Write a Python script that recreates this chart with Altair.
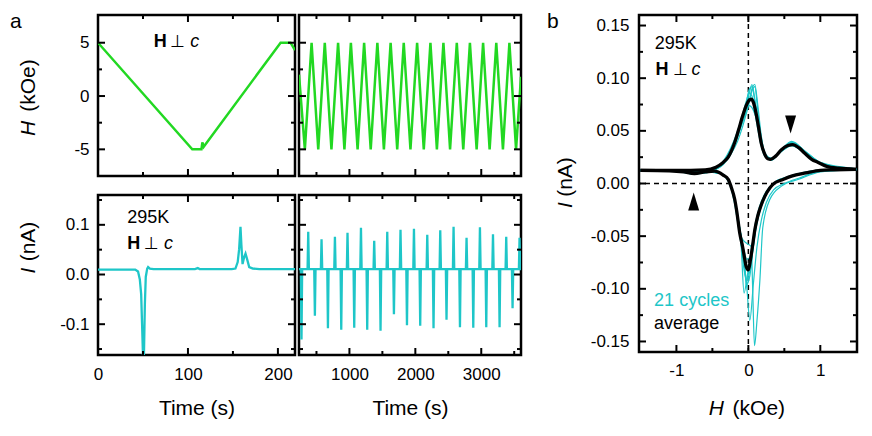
import altair as alt
import pandas as pd

FONT = "Liberation Sans"
GREEN = "#22D822"
CYAN = "#1EC6C8"
MINUS = "replace(datum.label, '\u2212', '-')"

# ---------------- panel a, top-left: field, first cycle ----------------
tl_time = [0, 104.8, 115, 116, 117.5, 203, 214, 219]
tl_field = [5.0, -5.0, -5.0, -4.35, -4.75, 5.0, 5.0, 4.3]

# ---------------- panel a, top-right: field, following cycles (turning points) ----------------
tr_time = [235, 324, 426, 527, 626, 727, 828, 924, 1022, 1124, 1223, 1323, 1424, 1523, 1625,
           1725, 1824, 1926, 2027, 2128, 2229, 2327, 2426, 2527, 2629, 2727, 2828, 2930, 3028,
           3127, 3228, 3329, 3427, 3528, 3603]
tr_field = [2.0, -5, 5, -5, 5, -5, 5, -5, 5, -5, 5, -5, 5, -5, 5, -5, 5, -5, 5, -5, 5,
            -5, 5, -5, 5, -5, 5, -5, 5, -5, 5, -5, 5, -5, 1.8]

# ---------------- panel a, bottom-left: current, first cycle ----------------
bl_time = [0, 41.4, 44.5, 46.5, 48, 49, 50.1, 51.1, 52.1, 53.1, 54.7, 55.7, 57.7, 61.8, 107.8,
           110.9, 112.9, 148.7, 152.8, 155.3, 156.9, 158.4, 159.4, 160.7, 162.5, 164, 165.6,
           168.1, 172.2, 179.4, 219]
bl_curr = [0.010, 0.010, 0.006, -0.010, -0.040, -0.100, -0.170, -0.160, -0.060, -0.005,
           0.012, 0.015, 0.012, 0.011, 0.011, 0.013, 0.011, 0.011, 0.012, 0.025, 0.051,
           0.096, 0.060, 0.021, 0.035, 0.042, 0.032, 0.015, 0.012, 0.011, 0.011]

# ---------------- panel a, bottom-right: current spikes ----------------
br_base = 0.011
br_neg_t = [273, 476, 674, 876, 1073, 1270, 1472, 1675, 1873, 2074, 2276, 2473, 2677, 2879, 3076, 3278, 3475]
br_neg_i = [-0.131, -0.083, -0.108, -0.111, -0.107, -0.111, -0.113, -0.080, -0.102, -0.103,
            -0.108, -0.091, -0.106, -0.107, -0.106, -0.106, -0.068]
br_pos_t = [375, 577, 780, 971, 1175, 1376, 1574, 1775, 1979, 2181, 2378, 2580, 2777, 2980, 3178, 3379, 3581]
br_pos_i = [0.086, 0.071, 0.076, 0.084, 0.094, 0.068, 0.086, 0.090, 0.092, 0.080, 0.089,
            0.096, 0.074, 0.095, 0.081, 0.076, 0.074]

# ---------------- panel b: I vs H ----------------
avg_up_h = [-1.5, -1.0, -0.6, -0.45, -0.35, -0.28, -0.2, -0.14, -0.08, -0.03, 0.01, 0.04, 0.07,
            0.10, 0.14, 0.18, 0.22, 0.27, 0.31, 0.38, 0.46, 0.55, 0.62, 0.70, 0.78, 0.88, 0.97,
            1.1, 1.25, 1.5]
avg_up_i = [0.0125, 0.0125, 0.013, 0.0155, 0.020, 0.025, 0.037, 0.050, 0.064, 0.074, 0.079,
            0.080, 0.077, 0.069, 0.054, 0.038, 0.029, 0.0235, 0.023, 0.026, 0.032, 0.036,
            0.037, 0.034, 0.029, 0.023, 0.020, 0.016, 0.0145, 0.0135]
avg_dn_h = [1.5, 1.2, 1.0, 0.8, 0.6, 0.45, 0.37, 0.3, 0.23, 0.17, 0.13, 0.09, 0.065, 0.03, 0.0,
            -0.03, -0.05, -0.08, -0.12, -0.16, -0.19, -0.24, -0.28, -0.35, -0.47, -0.6, -0.75,
            -0.9, -1.1, -1.5]
avg_dn_i = [0.0135, 0.013, 0.0125, 0.010, 0.007, 0.003, 0.0007, -0.004, -0.012, -0.022, -0.031,
            -0.044, -0.056, -0.072, -0.082, -0.079, -0.072, -0.060, -0.047, -0.027, -0.015,
            -0.003, 0.004, 0.008, 0.0117, 0.011, 0.0095, 0.011, 0.012, 0.0125]

cyc_up_h = [-1.5, -0.8, -0.5, -0.35, -0.25, -0.15, -0.08, -0.03, 0.01, 0.05, 0.09, 0.13, 0.18,
            0.24, 0.32, 0.45, 0.6, 0.8, 1.0, 1.5]
cyc_up_i = [
    [0.0125, 0.012, 0.013, 0.019, 0.029, 0.044, 0.060, 0.072, 0.085, 0.094, 0.080, 0.060, 0.038, 0.026, 0.023, 0.031, 0.038, 0.029, 0.019, 0.0135],
    [0.013, 0.0125, 0.0135, 0.020, 0.030, 0.045, 0.058, 0.068, 0.078, 0.088, 0.092, 0.070, 0.042, 0.027, 0.023, 0.030, 0.036, 0.028, 0.019, 0.014],
    [0.012, 0.0115, 0.0125, 0.021, 0.033, 0.050, 0.066, 0.078, 0.086, 0.083, 0.068, 0.052, 0.035, 0.025, 0.023, 0.032, 0.039, 0.030, 0.020, 0.013],
    [0.0125, 0.012, 0.013, 0.018, 0.027, 0.040, 0.054, 0.066, 0.076, 0.090, 0.094, 0.075, 0.045, 0.028, 0.024, 0.030, 0.036, 0.028, 0.019, 0.0135],
    [0.013, 0.0125, 0.013, 0.020, 0.031, 0.047, 0.063, 0.075, 0.089, 0.092, 0.078, 0.061, 0.040, 0.026, 0.022, 0.031, 0.040, 0.030, 0.020, 0.014],
    [0.012, 0.012, 0.0125, 0.019, 0.030, 0.046, 0.062, 0.070, 0.074, 0.072, 0.066, 0.057, 0.040, 0.027, 0.024, 0.031, 0.037, 0.029, 0.019, 0.013],
]
cyc_dn_h = [1.5, 1.0, 0.7, 0.5, 0.38, 0.3, 0.22, 0.15, 0.1, 0.06, 0.02, -0.02, -0.06, -0.1,
            -0.15, -0.2, -0.28, -0.4, -0.6, -0.75, -1.0, -1.5]
cyc_dn_i = [
    [0.0135, 0.0125, 0.009, 0.005, 0.0015, -0.004, -0.013, -0.027, -0.043, -0.062, -0.088, -0.095, -0.072, -0.054, -0.032, -0.012, 0.004, 0.010, 0.011, 0.009, 0.012, 0.0125],
    [0.013, 0.012, 0.0085, 0.0045, 0.001, -0.005, -0.015, -0.029, -0.045, -0.065, -0.085, -0.078, -0.065, -0.050, -0.030, -0.011, 0.004, 0.010, 0.011, 0.0095, 0.012, 0.0125],
    [0.0135, 0.0125, 0.009, 0.005, 0.002, -0.003, -0.011, -0.023, -0.037, -0.055, -0.072, -0.090, -0.104, -0.060, -0.034, -0.014, 0.003, 0.010, 0.011, 0.009, 0.012, 0.013],
    [0.014, 0.013, 0.0095, 0.0055, 0.002, -0.004, -0.012, -0.025, -0.040, -0.058, -0.075, -0.092, -0.082, -0.058, -0.036, -0.016, 0.002, 0.0095, 0.011, 0.009, 0.0115, 0.0125],
    [0.013, 0.0125, 0.009, 0.005, 0.0015, -0.004, -0.014, -0.028, -0.044, -0.064, -0.080, -0.098, -0.075, -0.052, -0.030, -0.012, 0.004, 0.010, 0.011, 0.0095, 0.012, 0.0125],
    [0.0135, 0.012, 0.0085, 0.0045, 0.001, -0.005, -0.014, -0.027, -0.042, -0.060, -0.070, -0.072, -0.064, -0.051, -0.031, -0.013, 0.004, 0.010, 0.011, 0.009, 0.012, 0.013],
]
odd1_h = [1.5, 1.0, 0.7, 0.46, 0.3, 0.2, 0.16, 0.12, 0.085, 0.06, 0.04, -0.02, -0.09, -0.15, -0.2, -0.3, -0.45, -0.75, -1.0, -1.5]
odd1_i = [0.0135, 0.011, 0.004, -0.0025, -0.015, -0.042, -0.092, -0.13, -0.154, -0.10, -0.06, -0.057, -0.052, -0.03, -0.012, 0.005, 0.011, 0.009, 0.012, 0.0125]
odd2_h = [1.5, 1.0, 0.7, 0.5, 0.35, 0.25, 0.18, 0.12, 0.07, 0.02, -0.02, -0.06, -0.1, -0.15, -0.2, -0.28, -0.45, -0.75, -1.0, -1.5]
odd2_i = [0.013, 0.0115, 0.005, 0.0, -0.006, -0.018, -0.035, -0.06, -0.095, -0.13, -0.10, -0.075, -0.055, -0.032, -0.013, 0.003, 0.011, 0.0095, 0.012, 0.0125]

arrow_down = {"x": [0.587], "y": [0.056]}
arrow_up = {"x": [-0.76], "y": [-0.017]}

# ---------------- helpers ----------------
def sc(lo, hi):
    return alt.Scale(domain=[lo, hi], nice=False, zero=False)


def tick_layers(xmaj, xmin, ymaj, ymin, xs, ys, xax, yax, W, H):
    out = []
    for vals, L in ((xmaj, 7), (xmin, 4)):
        r = alt.Chart(pd.DataFrame({"x": vals})).mark_rule(color="black", strokeWidth=2)
        out.append(r.encode(x=alt.X("x:Q", scale=xs, axis=xax), y=alt.value(0), y2=alt.value(L)))
        out.append(r.encode(x=alt.X("x:Q", scale=xs, axis=xax), y=alt.value(H), y2=alt.value(H - L)))
    for vals, L in ((ymaj, 7), (ymin, 4)):
        r = alt.Chart(pd.DataFrame({"y": vals})).mark_rule(color="black", strokeWidth=2)
        out.append(r.encode(y=alt.Y("y:Q", scale=ys, axis=yax), x=alt.value(0), x2=alt.value(L)))
        out.append(r.encode(y=alt.Y("y:Q", scale=ys, axis=yax), x=alt.value(W), x2=alt.value(W - L)))
    return out


def ann(s, x, y, xs, ys, xax, yax, **kw):
    props = dict(align="left", baseline="alphabetic", font=FONT, fontSize=18, color="black")
    props.update(kw)
    return alt.Chart(pd.DataFrame({"x": [x], "y": [y], "s": [s]})).mark_text(**props).encode(
        x=alt.X("x:Q", scale=xs, axis=xax), y=alt.Y("y:Q", scale=ys, axis=yax), text="s:N")


def hperp(x_h, x_p, x_c, y, xs, ys, xax, yax):
    return [
        ann("H", x_h, y, xs, ys, xax, yax, fontWeight="bold"),
        ann("\u22a5", x_p, y, xs, ys, xax, yax, align="center", font="DejaVu Sans", fontSize=17),
        ann("c", x_c, y, xs, ys, xax, yax, fontStyle="italic"),
    ]


def ptxt(s, x, y, **kw):
    props = dict(align="center", baseline="middle", font=FONT, fontSize=21, color="black")
    props.update(kw)
    return alt.Chart(pd.DataFrame({"s": [s]})).mark_text(**props).encode(
        x=alt.value(x), y=alt.value(y), text="s:N")


def line(x, y, xs, ys, xax, yax, color, width):
    return alt.Chart(pd.DataFrame({"x": x, "y": y})).mark_line(
        color=color, strokeWidth=width, clip=True).encode(
        x=alt.X("x:Q", scale=xs, axis=xax), y=alt.Y("y:Q", scale=ys, axis=yax))


# ---------------- scales and axes ----------------
W1, W2, H1, H2 = 197, 222, 161, 160
WB, HB = 218, 337
xs1, xs2 = sc(0, 219), sc(235, 3603)
ysh, ysi = sc(-7.5, 7.6), sc(-0.162, 0.16)
xsb, ysb = sc(-1.52, 1.51), sc(-0.16, 0.16)

ax_h = alt.Axis(values=[-5, 0, 5], format="d", labelExpr=MINUS, title=None, labelPadding=9, labelFlush=False)
ax_i = alt.Axis(values=[-0.1, 0, 0.1], format=".1f", labelExpr=MINUS, title=None, labelPadding=9, labelFlush=False)
ax_t1 = alt.Axis(values=[0, 100, 200], format="d", title="Time (s)", labelPadding=11, titlePadding=15, labelFlush=False)
ax_t2 = alt.Axis(values=[1000, 2000, 3000], format="d", title="Time (s)", labelPadding=11, titlePadding=15, labelFlush=False)
ax_bx = alt.Axis(values=[-1, 0, 1], format="d", labelExpr=MINUS, title=None, labelPadding=10, labelFlush=False)
ax_by = alt.Axis(values=[-0.15, -0.1, -0.05, 0, 0.05, 0.1, 0.15], format=".2f", labelExpr=MINUS,
                 title=None, labelPadding=10, labelFlush=False)

# ---------------- panels ----------------
TL = alt.layer(
    line(tl_time, tl_field, xs1, ysh, None, ax_h, GREEN, 2.5),
    *hperp(62, 88.5, 102.5, 4.63, xs1, ysh, None, ax_h),
    ptxt("H", -69, 113.5, fontStyle="italic", angle=270),
    ptxt("(kOe)", -69, 70.5, angle=270),
    ptxt("a", -88, 13, align="left", baseline="alphabetic"),
    *tick_layers([100, 200], [50, 150], [-5, 0, 5], [-2.5, 2.5], xs1, ysh, None, ax_h, W1, H1),
).properties(width=W1, height=H1)

TR = alt.layer(
    line(tr_time, tr_field, xs2, ysh, None, None, GREEN, 2.5),
    *tick_layers([1000, 2000, 3000], [500, 1500, 2500, 3500], [-5, 0, 5], [-2.5, 2.5], xs2, ysh, None, None, W2, H1),
).properties(width=W2, height=H1)

BL = alt.layer(
    line(bl_time, bl_curr, xs1, ysi, ax_t1, ax_i, CYAN, 2.3),
    ann("295K", 32.5, 0.104, xs1, ysi, ax_t1, ax_i),
    *hperp(32.5, 59.5, 73.5, 0.0516, xs1, ysi, ax_t1, ax_i),
    ptxt("I", -69, 75.6, fontStyle="italic", angle=270),
    ptxt("(nA)", -69, 46.5, angle=270),
    *tick_layers([100, 200], [50, 150], [-0.1, 0, 0.1], [-0.15, -0.05, 0.05, 0.15], xs1, ysi, ax_t1, ax_i, W1, H2),
).properties(width=W1, height=H2)

br_rows = [(235, br_base), (3603, br_base)]
for t, v in list(zip(br_neg_t, br_neg_i)) + list(zip(br_pos_t, br_pos_i)):
    br_rows += [(t - 10, br_base), (t, v), (t + 10, br_base)]
br_rows.sort()
BR = alt.layer(
    line([r[0] for r in br_rows], [r[1] for r in br_rows], xs2, ysi, ax_t2, None, CYAN, 2.3),
    *tick_layers([1000, 2000, 3000], [500, 1500, 2500, 3500], [-0.1, 0, 0.1], [-0.15, -0.05, 0.05, 0.15], xs2, ysi, ax_t2, None, W2, H2),
).properties(width=W2, height=H2)

# panel b data tables
cyc_rows = []
for k, vals in enumerate(cyc_up_i):
    cyc_rows += [(h, i, f"u{k}") for h, i in zip(cyc_up_h, vals)]
for k, vals in enumerate(cyc_dn_i):
    cyc_rows += [(h, i, f"d{k}") for h, i in zip(cyc_dn_h, vals)]
cyc_rows += [(h, i, "o1") for h, i in zip(odd1_h, odd1_i)]
cyc_rows += [(h, i, "o2") for h, i in zip(odd2_h, odd2_i)]
cyc_df = pd.DataFrame(cyc_rows, columns=["x", "y", "k"])
avg_df = pd.DataFrame(
    [(h, i, "up") for h, i in zip(avg_up_h, avg_up_i)] + [(h, i, "dn") for h, i in zip(avg_dn_h, avg_dn_i)],
    columns=["x", "y", "k"])

enc_b = dict(x=alt.X("x:Q", scale=xsb, axis=ax_bx), y=alt.Y("y:Q", scale=ysb, axis=ax_by))
dash_v = alt.Chart(pd.DataFrame({"x": [0]})).mark_rule(color="black", strokeWidth=1.5, strokeDash=[5, 4]).encode(
    x=alt.X("x:Q", scale=xsb, axis=ax_bx))
dash_h = alt.Chart(pd.DataFrame({"y": [0]})).mark_rule(color="black", strokeWidth=1.5, strokeDash=[5, 4]).encode(
    y=alt.Y("y:Q", scale=ysb, axis=ax_by))
cyc_line = alt.Chart(cyc_df).mark_line(color=CYAN, strokeWidth=1.2, interpolate="monotone", clip=True).encode(
    detail="k:N", **enc_b)
avg_line = alt.Chart(avg_df).mark_line(color="black", strokeWidth=3.3, interpolate="monotone", clip=True).encode(
    detail="k:N", **enc_b)
tri_dn = alt.Chart(pd.DataFrame(arrow_down)).mark_point(
    shape="M-0.61,-1L0.61,-1L0,1Z", filled=True, color="black", opacity=1, size=324, strokeWidth=0).encode(**enc_b)
tri_up = alt.Chart(pd.DataFrame(arrow_up)).mark_point(
    shape="M-0.61,1L0.61,1L0,-1Z", filled=True, color="black", opacity=1, size=324, strokeWidth=0).encode(**enc_b)

B = alt.layer(
    dash_v, dash_h, cyc_line, avg_line, tri_dn, tri_up,
    ann("295K", -1.30, 0.128, xsb, ysb, ax_bx, ax_by),
    *hperp(-1.29, -0.94, -0.79, 0.1026, xsb, ysb, ax_bx, ax_by),
    ann("21 cycles", -1.31, -0.1159, xsb, ysb, ax_bx, ax_by, color=CYAN),
    ann("average", -1.31, -0.138, xsb, ysb, ax_bx, ax_by),
    ptxt("I", -72.7, 190, fontStyle="italic", angle=270),
    ptxt("(nA)", -72.7, 162, angle=270),
    ptxt("H", 77.3, 400, fontStyle="italic", baseline="alphabetic"),
    ptxt("(kOe)", 119.8, 400, baseline="alphabetic"),
    ptxt("b", -92, 13, align="left", baseline="alphabetic"),
    *tick_layers([-1, 0, 1], [-0.5, 0.5], [-0.15, -0.1, -0.05, 0, 0.05, 0.1, 0.15],
                 [-0.125, -0.075, -0.025, 0.025, 0.075, 0.125], xsb, ysb, ax_bx, ax_by, WB, HB),
).properties(width=WB, height=HB)

grid = alt.concat(TL, TR, BL, BR, columns=2, spacing={"row": 13, "column": -2}, align="each")
chart = alt.hconcat(grid, alt.vconcat(B), spacing=21).properties(
    padding={"left": 0, "top": 1, "right": 0, "bottom": 0}
).configure(font=FONT).configure_view(stroke="black", strokeWidth=2.5).configure_axis(
    labelFont=FONT, labelFontSize=17, labelColor="black", titleFont=FONT, titleFontSize=21,
    titleFontWeight="normal", titleColor="black", grid=False, domain=False, ticks=False, tickSize=0)

chart.save("out.html", embed_options={"renderer": "svg", "actions": False})
